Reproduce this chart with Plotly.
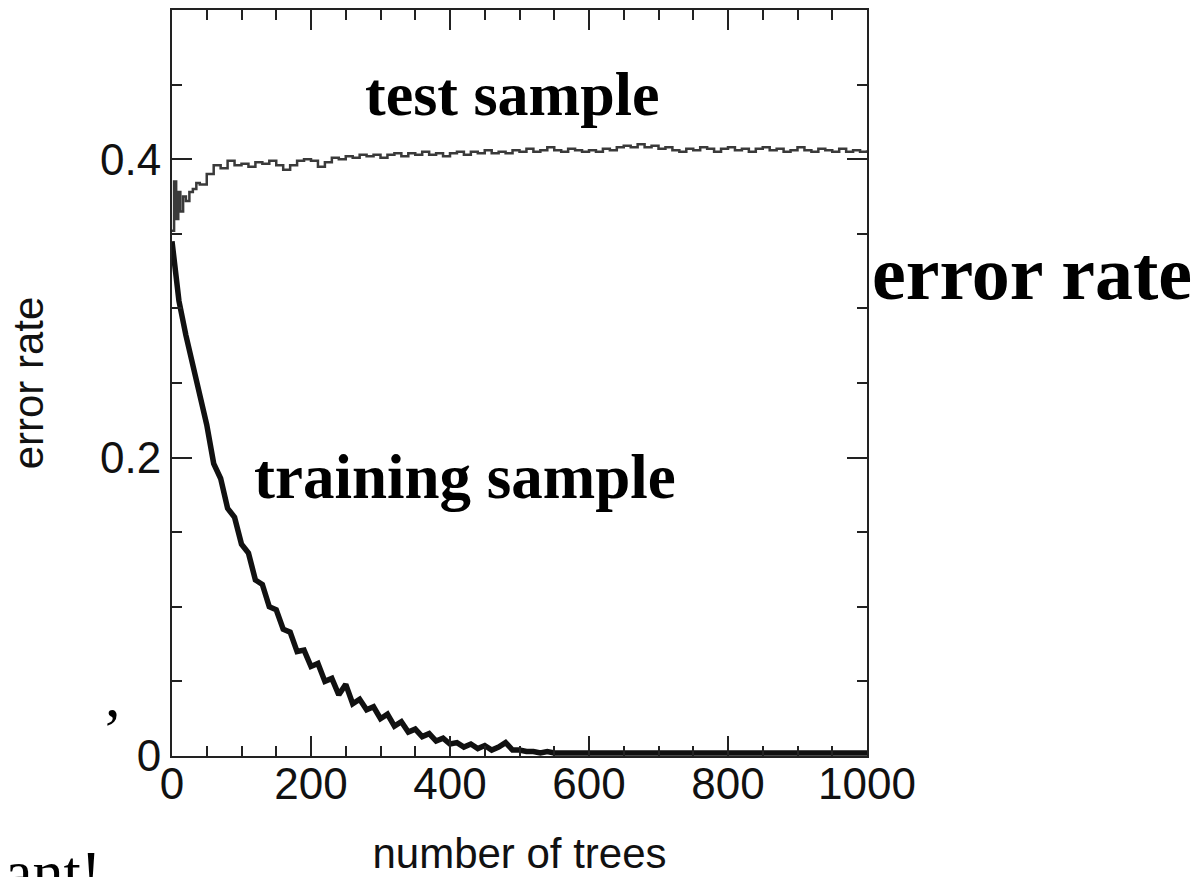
import plotly.graph_objects as go

# ---- data ----
train_x = list(range(0, 1001, 10))
train_y = [0.345, 0.305, 0.282, 0.262, 0.238, 0.222, 0.196, 0.186, 0.166, 0.160,
           0.142, 0.136, 0.118, 0.115, 0.100, 0.098, 0.085, 0.083, 0.070, 0.071,
           0.060, 0.062, 0.050, 0.052, 0.041, 0.048, 0.035, 0.038, 0.031, 0.033,
           0.025, 0.028, 0.020, 0.023, 0.016, 0.018, 0.013, 0.015, 0.010, 0.012,
           0.008, 0.009, 0.006, 0.008, 0.005, 0.007, 0.004, 0.006, 0.009, 0.004,
           0.004, 0.003, 0.003, 0.002, 0.003, 0.002, 0.002, 0.002, 0.002, 0.002,
           0.002, 0.002, 0.002, 0.002, 0.002, 0.002, 0.002, 0.002, 0.002, 0.002,
           0.002, 0.002, 0.002, 0.002, 0.002, 0.002, 0.002, 0.002, 0.002, 0.002,
           0.002, 0.002, 0.002, 0.002, 0.002, 0.002, 0.002, 0.002, 0.002, 0.002,
           0.002, 0.002, 0.002, 0.002, 0.002, 0.002, 0.002, 0.002, 0.002, 0.002,
           0.002]

test_x = [0, 3, 6, 9, 12, 16, 20, 25, 30, 35, 40] + list(range(50, 1001, 10))
test_y = [0.352, 0.385, 0.360, 0.378, 0.365, 0.375, 0.372, 0.378, 0.380, 0.384, 0.383,
          0.390, 0.396, 0.394, 0.399, 0.396, 0.397, 0.395, 0.398, 0.397, 0.399,
          0.396, 0.393, 0.396, 0.399, 0.400, 0.399, 0.395, 0.398, 0.401, 0.400,
          0.402, 0.401, 0.403, 0.402, 0.403, 0.401, 0.403, 0.404, 0.402, 0.404,
          0.403, 0.405, 0.403, 0.404, 0.402, 0.404, 0.405, 0.403, 0.405, 0.404,
          0.406, 0.404, 0.405, 0.404, 0.406, 0.405, 0.407, 0.405, 0.406, 0.408,
          0.406, 0.405, 0.407, 0.406, 0.405, 0.406, 0.405, 0.407, 0.406, 0.408,
          0.409, 0.408, 0.410, 0.408, 0.409, 0.407, 0.408, 0.406, 0.405, 0.407,
          0.406, 0.408, 0.407, 0.405, 0.407, 0.408, 0.406, 0.407, 0.405, 0.407,
          0.408, 0.406, 0.407, 0.405, 0.406, 0.408, 0.406, 0.405, 0.407, 0.406,
          0.405, 0.407, 0.405, 0.406, 0.405, 0.406]

x_title = "number of trees"
y_title = "error rate"
label_test = "test sample"
label_train = "training sample"
side_label = "error rate"

SANS = "Liberation Sans, Arial, Helvetica, sans-serif"
SERIF = "Liberation Serif, Times New Roman, serif"
AX = "#222222"

fig = go.Figure()
fig.add_trace(go.Scatter(x=test_x, y=test_y, mode="lines", line_shape="hv",
                         line=dict(color="#3a3a3a", width=2.5), showlegend=False))
fig.add_trace(go.Scatter(x=train_x, y=train_y, mode="lines",
                         line=dict(color="#111111", width=5.5), showlegend=False))

axis_common = dict(showline=True, linecolor=AX, linewidth=2, mirror="allticks",
                   ticks="inside", tickcolor=AX, tickwidth=2, ticklen=20,
                   showgrid=False, zeroline=False, automargin=False,
                   tickfont=dict(family=SANS, size=44, color="#111111"),
                   title_font=dict(family=SANS, size=42, color="#111111"))

fig.update_xaxes(range=[0, 1000], tickmode="linear", tick0=0, dtick=200,
                 minor=dict(ticks="inside", dtick=50, ticklen=10, tickwidth=2, tickcolor=AX),
                 ticklabelstandoff=-12,
                 title_text=x_title, title_standoff=65, **axis_common)
fig.update_yaxes(range=[0, 0.5], tickmode="linear", tick0=0, dtick=0.2,
                 minor=dict(ticks="inside", dtick=0.05, ticklen=10, tickwidth=2, tickcolor=AX),
                 title_text=y_title, title_standoff=43, **axis_common)

fig.add_annotation(x=489, y=0.444, xref="x", yref="y", text="<b>" + label_test + "</b>",
                   xanchor="center", yanchor="middle", showarrow=False,
                   font=dict(family=SERIF, size=62, color="#000000"))
fig.add_annotation(x=421, y=0.187, xref="x", yref="y", text="<b>" + label_train + "</b>",
                   xanchor="center", yanchor="middle", showarrow=False,
                   font=dict(family=SERIF, size=63, color="#000000"))
fig.add_annotation(x=1.238, y=0.648, xref="paper", yref="paper", text="<b>" + side_label + "</b>",
                   xanchor="center", yanchor="middle", showarrow=False,
                   font=dict(family=SERIF, size=76, color="#000000"))
fig.add_annotation(x=-0.085, y=0.0335, xref="paper", yref="paper", text=",",
                   xanchor="center", yanchor="bottom", showarrow=False,
                   font=dict(family=SERIF, size=62, color="#000000"))
fig.add_annotation(x=-0.100, y=-0.204, xref="paper", yref="paper", text="ant!",
                   xanchor="right", yanchor="bottom", showarrow=False,
                   font=dict(family=SERIF, size=62, color="#000000"))

fig.update_layout(width=1202, height=877, plot_bgcolor="white", paper_bgcolor="white",
                  margin=dict(l=172, r=335, t=10, b=121))

fig.write_html("out.html", config={"displayModeBar": False},
               post_script="document.body.style.margin='0';")
